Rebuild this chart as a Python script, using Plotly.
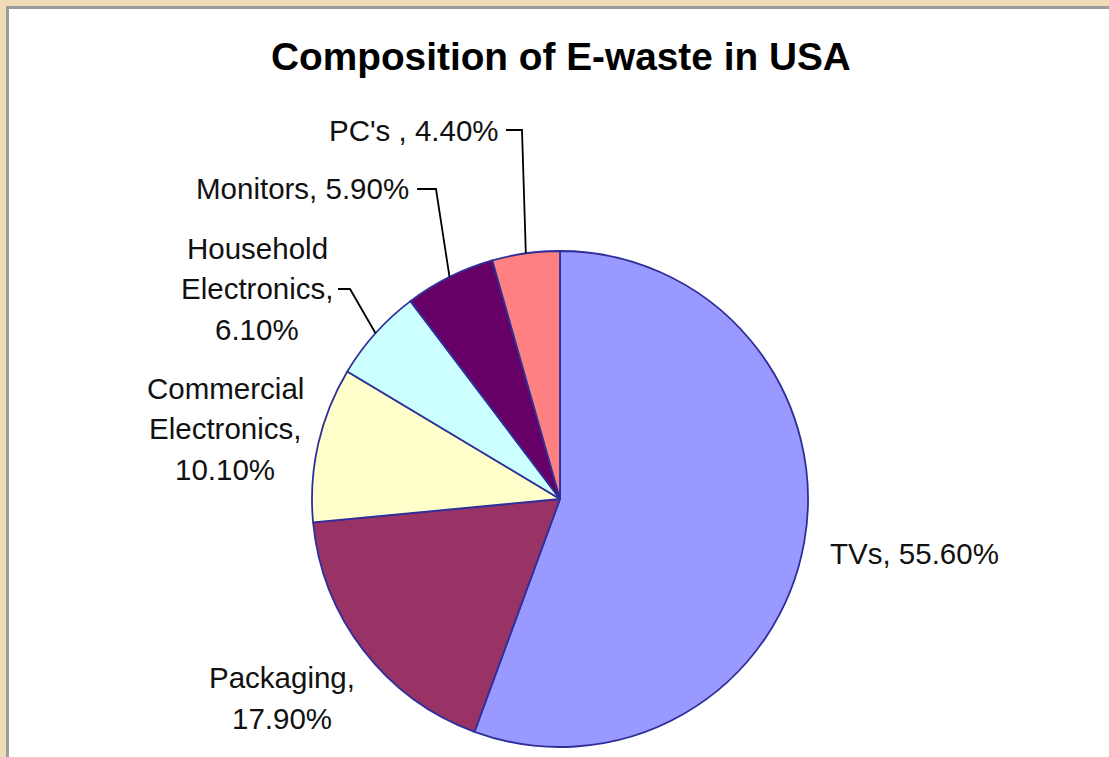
import math
import plotly.graph_objects as go

# ---- data ----
categories = ["TVs", "Packaging", "Commercial Electronics", "Household Electronics", "Monitors", "PC's"]
values = [55.6, 17.9, 10.1, 6.1, 5.9, 4.4]
label_texts = [
    ["TVs, 55.60%"],
    ["Packaging,", "17.90%"],
    ["Commercial", "Electronics,", "10.10%"],
    ["Household", "Electronics,", "6.10%"],
    ["Monitors, 5.90%"],
    ["PC's , 4.40%"],
]
colors = ["#9999FF", "#993366", "#FFFFCC", "#CCFFFF", "#660066", "#FF8080"]

# ---- layout (pixels) ----
W, H = 1109, 757
CX, CY, R = 560, 499, 248          # pie centre / radius in px (from top-left)
LINE_H = 41
FONT = "Liberation Sans, Arial, sans-serif"
# label anchor: (x, y-centre, xanchor) ; leader elbow (x, y) or None
label_pos = [
    (828, 553, "left"),
    (282, 698, "center"),
    (225, 429, "center"),
    (257, 289, "center"),
    (411, 189, "right"),
    (501, 130, "right"),
]
leaders = [None, None, None, (350, 289), (436, 189), (522, 130)]
leader_start = [None, None, None, 338, 417, 506]

def px(x):
    return x / W

def py(y):
    return 1 - y / H

fig = go.Figure()
fig.add_trace(go.Pie(
    labels=categories, values=values, sort=False, direction="clockwise", rotation=0,
    marker=dict(colors=colors, line=dict(color="#2F2F99", width=1.8)),
    textinfo="none", hoverinfo="label+percent", showlegend=False,
    domain=dict(x=[px(CX - R), px(CX + R)], y=[py(CY + R), py(CY - R)]),
))

shapes = [dict(type="rect", xref="paper", yref="paper", x0=px(7.5), x1=1.05, y0=-0.05, y1=py(7.5),
               fillcolor="white", line=dict(color="#9C9C9C", width=3), layer="below")]
annotations = []
total = sum(values)
cum = 0.0
for i, v in enumerate(values):
    theta = math.radians(360 * (cum + v / 2) / total)
    cum += v
    ex = CX + R * math.sin(theta)
    ey = CY - R * math.cos(theta)
    lx, ly, xa = label_pos[i]
    lines = label_texts[i]
    n = len(lines)
    for k, t in enumerate(lines):
        yy = ly + (k - (n - 1) / 2) * LINE_H
        annotations.append(dict(x=px(lx), y=py(yy), xref="paper", yref="paper", text=t,
                                showarrow=False, xanchor=xa, yanchor="middle",
                                font=dict(family=FONT, size=29.5, color="#111111")))
    if leaders[i] is not None:
        bx, by = leaders[i]
        sx = leader_start[i]
        path = f"M {px(sx)} {py(by)} L {px(bx)} {py(by)} L {px(ex)} {py(ey)}"
        shapes.append(dict(type="path", xref="paper", yref="paper", path=path,
                           line=dict(color="black", width=1.8)))

annotations.append(dict(x=px(561), y=py(57), xref="paper", yref="paper",
                        text="<b>Composition of E-waste in USA</b>", showarrow=False,
                        xanchor="center", yanchor="middle",
                        font=dict(family=FONT, size=38.8, color="black")))

fig.update_layout(
    width=W, height=H, margin=dict(l=0, r=0, t=0, b=0),
    paper_bgcolor="#EEDDB6", plot_bgcolor="white",
    shapes=shapes, annotations=annotations,
)
fig.write_html("out.html", config={"displayModeBar": False},
               post_script="document.body.style.margin='0';document.body.style.overflow='hidden';")
